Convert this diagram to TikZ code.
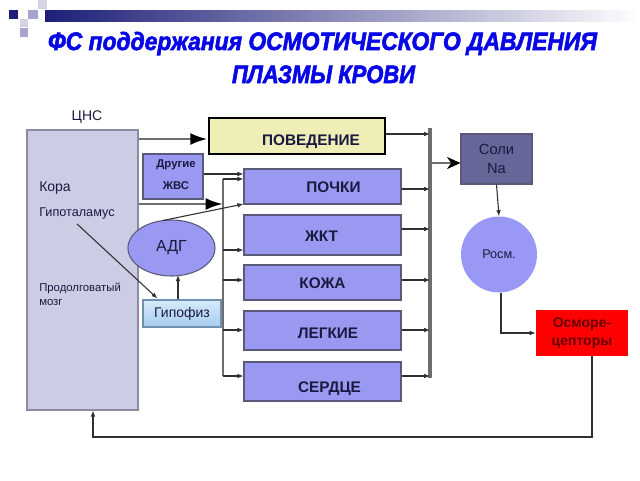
\documentclass[tikz,border=0pt]{standalone}
\usepackage{fontspec}
\setmainfont{Liberation Sans}
\newfontfamily\ttlfont[FakeBold=2.5]{Liberation Sans}
\usetikzlibrary{arrows.meta,calc,shapes.geometric}
\definecolor{cnsfill}{HTML}{CCCCE4}
\definecolor{cnsline}{HTML}{8C8CA0}
\definecolor{behfill}{HTML}{EEEEB6}
\definecolor{boxfill}{HTML}{9999F2}
\definecolor{boxline}{HTML}{5A5A78}
\definecolor{saltfill}{HTML}{666699}
\definecolor{circfill}{HTML}{9999F5}
\definecolor{osmofill}{HTML}{FF0000}
\definecolor{osmotxt}{HTML}{660000}
\definecolor{pittop}{HTML}{D6EAFB}
\definecolor{pitbot}{HTML}{A6CDEF}
\definecolor{pitline}{HTML}{7090B0}
\definecolor{txt}{HTML}{1A1A40}
\definecolor{busclr}{HTML}{6E6E6E}
\definecolor{lineclr}{HTML}{303030}
\definecolor{titleblue}{HTML}{0808E6}
\definecolor{navy}{HTML}{1E1E78}
\definecolor{sqlight}{HTML}{D4D4E6}
\definecolor{sqmid}{HTML}{A4A4CC}
\begin{document}
\begin{tikzpicture}[x=0.75pt,y=-0.75pt,
  box/.style={draw=boxline, line width=0.8pt, fill=boxfill, inner sep=0pt, text=txt},
  sz/.style 2 args={minimum width={#1*0.75pt}, minimum height={#2*0.75pt}},
  lbl/.style={inner sep=0pt, text=txt},
  blbl/.style={inner sep=0pt, text=txt, font=\fontsize{11.5}{13}\selectfont\bfseries},
  conn/.style={draw=lineclr, line width=0.8pt, -{Latex[length=4.5pt,width=3.5pt]}},
  bus/.style={draw=busclr, line width=2pt},
  bigarr/.style={draw=busclr, line width=2.2pt, -{Latex[length=13pt,width=9pt,color=black]}},
  stealarr/.style={draw=busclr, line width=2.2pt, -{Stealth[length=10pt,width=9pt,inset=3pt,color=black]}},
  ttl/.style={inner sep=0pt, anchor=base, text=titleblue}
]
\useasboundingbox (0,0) rectangle (640,480);
\fill[white] (0,0) rectangle (640,480);
% header
\shade[left color=navy, right color=white] (45,10) rectangle (640,21);
\fill[navy] (9,10) rectangle (18,19);
\fill[sqmid] (28,10) rectangle (38,19);
\fill[sqlight] (38,0) rectangle (47,9);
\fill[sqlight] (20,19) rectangle (28,27);
\fill[sqmid] (20,28) rectangle (28,37);
% title
\node[ttl] (t1) at (322.5,50) {\resizebox{411.75pt}{13.5pt}{\fontsize{20}{20}\ttlfont\bfseries\itshape\smash{ФС поддержания ОСМОТИЧЕСКОГО ДАВЛЕНИЯ}\rule{0pt}{14.32pt}}};
\node[ttl] (t2) at (323.5,83) {\resizebox{137.25pt}{13.5pt}{\fontsize{20}{20}\ttlfont\bfseries\itshape\smash{ПЛАЗМЫ КРОВИ}\rule{0pt}{14.32pt}}};
% CNS
\node[box, sz={111}{280}, fill=cnsfill, draw=cnsline] (cns) at (82.5,270) {};
\node[lbl, font=\fontsize{10.5}{12}\selectfont] (cnst) at (87,117) {ЦНС};
\node[lbl, anchor=west, font=\fontsize{10.5}{12}\selectfont] (kora) at (39,188) {Кора};
\node[lbl, anchor=west, font=\fontsize{9.5}{11}\selectfont] (hyp) at (39,213) {Гипоталамус};
\node[lbl, anchor=west, align=left, font=\fontsize{8.5}{10.5}\selectfont] (med) at (39,294) {Продолговатый\\мозг};
% behaviour
\node[box, sz={176}{36}, fill=behfill, draw=black, line width=2pt] (beh) at (297,136) {};
\node[blbl] (beht) at (311,141.5) {ПОВЕДЕНИЕ};
% other
\node[box, sz={60}{45}] (oth) at (173,176.5) {};
\node[lbl, font=\fontsize{8.5}{10}\selectfont\bfseries] (otht1) at (176,165) {Другие};
\node[lbl, font=\fontsize{8.5}{10}\selectfont\bfseries] (otht2) at (176,186) {ЖВС};
% organ boxes
\node[box, sz={157}{35}] (kid) at (322.5,186.5) {};
\node[blbl] (kidt) at (333.5,187.5) {ПОЧКИ};
\node[box, sz={157}{40}] (gut) at (322.5,235) {};
\node[blbl] (gutt) at (321.5,236) {ЖКТ};
\node[box, sz={157}{35}] (skin) at (322.5,282.5) {};
\node[blbl] (skint) at (322.5,283) {КОЖА};
\node[box, sz={157}{39}] (lung) at (322.5,330.5) {};
\node[blbl] (lungt) at (328,333) {ЛЕГКИЕ};
\node[box, sz={157}{39}] (heart) at (322.5,381.5) {};
\node[blbl] (heartt) at (329.5,388.5) {СЕРДЦЕ};
% ADH and pituitary
\node[ellipse, draw=boxline, line width=0.8pt, fill=boxfill, sz={87}{56}, inner sep=0pt, text=txt, font=\fontsize{12}{14}\selectfont] (adh) at (171.5,248) {АДГ};
\node[draw=pitline, line width=0.8pt, top color=pittop, bottom color=pitbot, sz={78}{27}, inner sep=0pt, text=txt, font=\fontsize{10.5}{12}\selectfont] (pit) at (182,313.5) {Гипофиз};
% right side
\node[box, sz={71}{50}, fill=saltfill, draw=boxline, align=center, font=\fontsize{11}{14.5}\selectfont] (salt) at (496.5,159) {Соли\\Na};
\node[circle, fill=circfill, sz={76}{76}, inner sep=0pt, text=txt, font=\fontsize{9.5}{11}\selectfont] (posm) at (499,254.5) {Росм.};
\node[fill=osmofill, sz={92}{46}, inner sep=0pt, text=osmotxt, align=center, font=\fontsize{10.5}{14}\selectfont\bfseries] (osmo) at (582,333) {Осморе-\\цепторы};
% bus coordinates
\coordinate (lbx) at (223,0);
\coordinate (rbx) at (430,0);
\coordinate (lbtop) at (223,179);
\coordinate (lbbot) at (223,376);
\coordinate (rbtop) at (430,128);
\coordinate (rbbot) at (430,378);
\coordinate (fb) at (93,437);
% buses
\draw[bus] (lbtop) -- (lbbot);
\draw[bus, line width=2.6pt] (rbtop) -- (rbbot);
% thick arrows
\draw[bigarr] (cns.east |- beh.west) ++(0,3) coordinate (cb) -- (cb -| beh.west);
\draw[bigarr] ($(cns.east)+(0,-66)$) coordinate (cl) -- (cl -| lbx);
\draw[stealarr] ($(salt.west -| rbx)+(0,4)$) coordinate (rs) -- (rs -| salt.west);
% left branches
\draw[conn] (lbtop) -- (lbtop -| kid.west);
\draw[conn] ($(gut.west -| lbx)+(0,15)$) coordinate (lg) -- (lg -| gut.west);
\draw[conn] ($(skin.west -| lbx)+(0,-2.5)$) coordinate (ls) -- (ls -| skin.west);
\draw[conn] ($(lung.west -| lbx)+(0,-0.5)$) coordinate (ll) -- (ll -| lung.west);
\draw[conn] (lbbot) -- (lbbot -| heart.west);
% right branches
\draw[conn] ($(beh.east)+(0,-2)$) coordinate (rb1) -- (rb1 -| rbx);
\draw[conn] ($(kid.east)+(0,2.5)$) coordinate (rb2) -- (rb2 -| rbx);
\draw[conn] ($(gut.east)+(0,-6)$) coordinate (rb3) -- (rb3 -| rbx);
\draw[conn] ($(skin.east)+(0,-2.5)$) coordinate (rb4) -- (rb4 -| rbx);
\draw[conn] ($(lung.east)+(0,-0.5)$) coordinate (rb5) -- (rb5 -| rbx);
\draw[conn] ($(heart.east)+(0,-5.5)$) coordinate (rb6) -- (rb6 -| rbx);
% other inputs
\draw[conn] ($(oth.east)+(0,-2.5)$) coordinate (ok) -- (ok -| kid.west);
\draw[conn] ($(adh.north)+(-8.5,1)$) -- ($(kid.south west)+(0,-0.5)$);
\draw[conn] ($(hyp.south west)+(38,5)$) -- ($(pit.north west)+(15,-1)$);
\draw[conn] ($(pit.north)+(-4,0)$) -- ($(adh.south)+(6.5,-1.5)$);
% right chain
\draw[conn] (salt.south) -- (posm.north);
\draw[conn] ($(posm.south)+(2,0)$) |- (osmo.west);
\draw[conn] ($(osmo.south)+(10,0)$) |- (fb) -- (fb |- cns.south);
\end{tikzpicture}
\end{document}
